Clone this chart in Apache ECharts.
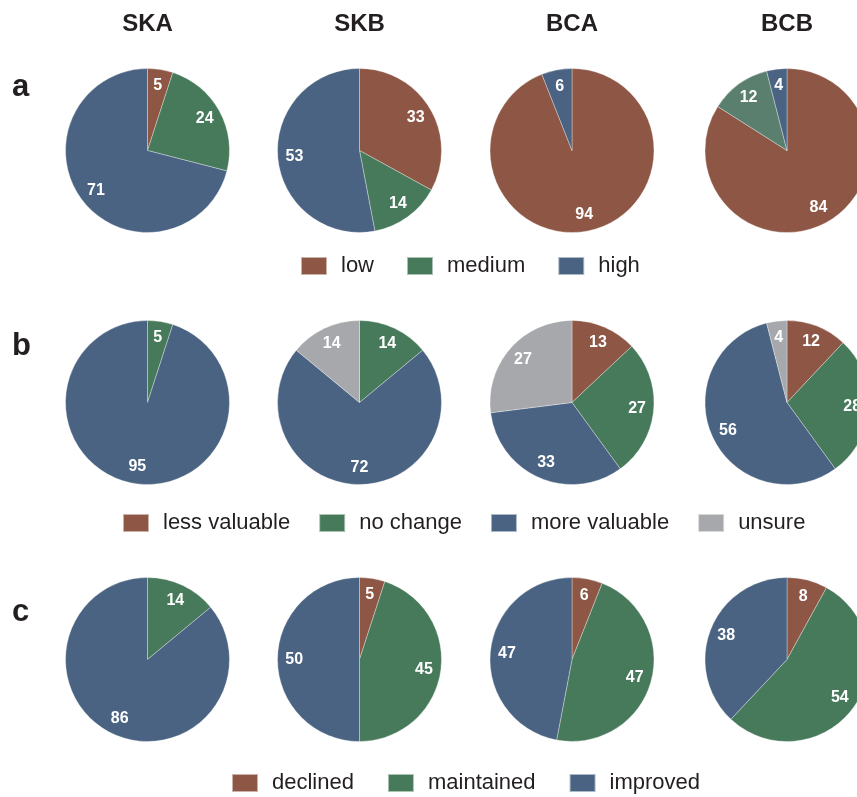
<!DOCTYPE html>
<html>
<head>
<meta charset="utf-8">
<script src="https://cdn.jsdelivr.net/npm/echarts@6/dist/echarts.min.js"></script>
<style>
  html, body { margin: 0; padding: 0; background: #fff; }
  #chart { width: 857px; height: 797px; }
</style>
</head>
<body>
<div id="chart"></div>
<script>
// Sites (columns) and panels (rows)
const sites = ['SKA', 'SKB', 'BCA', 'BCB'];
const panelLetters = ['a', 'b', 'c'];

// Panel a: categories and percentages per site
const catsA = ['low', 'medium', 'high'];
const valsA = [
  [5, 24, 71],
  [33, 14, 53],
  [94, 0, 6],
  [84, 12, 4]
];

// Panel b
const catsB = ['less valuable', 'no change', 'more valuable', 'unsure'];
const valsB = [
  [0, 5, 95, 0],
  [0, 14, 72, 14],
  [13, 27, 33, 27],
  [12, 28, 56, 4]
];

// Panel c
const catsC = ['declined', 'maintained', 'improved'];
const valsC = [
  [0, 14, 86],
  [5, 45, 50],
  [6, 47, 47],
  [8, 54, 38]
];

// Palette
const BROWN = '#8D5645';
const GREEN = '#477A5A';
const BLUE = '#4A6382';
const GREY = '#A6A8AC';
const MUTED_GREEN = '#5A7F6F';

const panels = [
  { cats: catsA, vals: valsA, colors: [BROWN, GREEN, BLUE] },
  { cats: catsB, vals: valsB, colors: [BROWN, GREEN, BLUE, GREY] },
  { cats: catsC, vals: valsC, colors: [BROWN, GREEN, BLUE] }
];

// Layout
const colX = [147.5, 359.5, 572, 787];
const rowY = [150.5, 402.5, 659.5];
const R = 82;
const legendLeft = [295, 117, 226];
const legendTop = [250, 507, 767];
const legendGap = [32, 28, 33];
const FONT = '"Liberation Sans", Arial, Helvetica, sans-serif';

function sliceColor(p, s, k) {
  // the BCB medium slice in panel a is drawn in a softer green
  if (p === 0 && sites[s] === 'BCB' && k === 1) return MUTED_GREEN;
  return panels[p].colors[k];
}

const pieSeries = [];
const labelSeries = [];
panels.forEach((panel, p) => {
  sites.forEach((site, s) => {
    const data = [];
    panel.cats.forEach((name, k) => {
      const v = panel.vals[s][k];
      if (v > 0) data.push({ name, value: v, itemStyle: { color: sliceColor(p, s, k) } });
    });
    const center = [colX[s], rowY[p]];
    pieSeries.push({
      type: 'pie',
      center,
      radius: [0, R],
      startAngle: 90,
      clockwise: true,
      animation: false,
      silent: true,
      label: { show: false },
      labelLine: { show: false },
      itemStyle: { borderColor: 'rgba(255,255,255,0.55)', borderWidth: 0.6 },
      data
    });
    // value labels placed on a transparent ring so they sit near the rim
    labelSeries.push({
      type: 'pie',
      center,
      radius: [R * 0.52, R],
      startAngle: 90,
      clockwise: true,
      animation: false,
      silent: true,
      avoidLabelOverlap: false,
      itemStyle: { color: 'rgba(0,0,0,0)' },
      label: {
        show: true,
        position: 'inside',
        formatter: '{c}',
        color: '#fff',
        fontFamily: FONT,
        fontWeight: 'bold',
        fontSize: 16
      },
      labelLine: { show: false },
      data: data.map(d => ({ name: d.name, value: d.value, itemStyle: { color: 'rgba(0,0,0,0)' } }))
    });
  });
});

const legends = panels.map((panel, p) => ({
  left: legendLeft[p],
  top: legendTop[p],
  orient: 'horizontal',
  icon: 'rect',
  itemWidth: 26,
  itemHeight: 18,
  itemGap: legendGap[p],
  selectedMode: false,
  textStyle: {
    fontFamily: FONT,
    fontSize: 22,
    color: '#231F20',
    padding: [0, 0, 0, 9]
  },
  data: panel.cats.map((name, k) => ({ name, itemStyle: { color: panel.colors[k] } }))
}));

const graphics = [];
sites.forEach((site, s) => {
  graphics.push({
    type: 'text',
    x: colX[s],
    y: 24,
    style: { text: site, align: 'center', verticalAlign: 'middle', font: 'bold 24px ' + FONT, fill: '#231F20' }
  });
});
const letterY = [87, 346, 612];
panelLetters.forEach((letter, p) => {
  graphics.push({
    type: 'text',
    x: 12,
    y: letterY[p],
    style: { text: letter, align: 'left', verticalAlign: 'middle', font: 'bold 31px ' + FONT, fill: '#231F20' }
  });
});

const chart = echarts.init(document.getElementById('chart'), null, { renderer: 'canvas' });
chart.setOption({
  backgroundColor: '#fff',
  animation: false,
  legend: legends,
  graphic: graphics,
  series: pieSeries.concat(labelSeries)
});
</script>
</body>
</html>
